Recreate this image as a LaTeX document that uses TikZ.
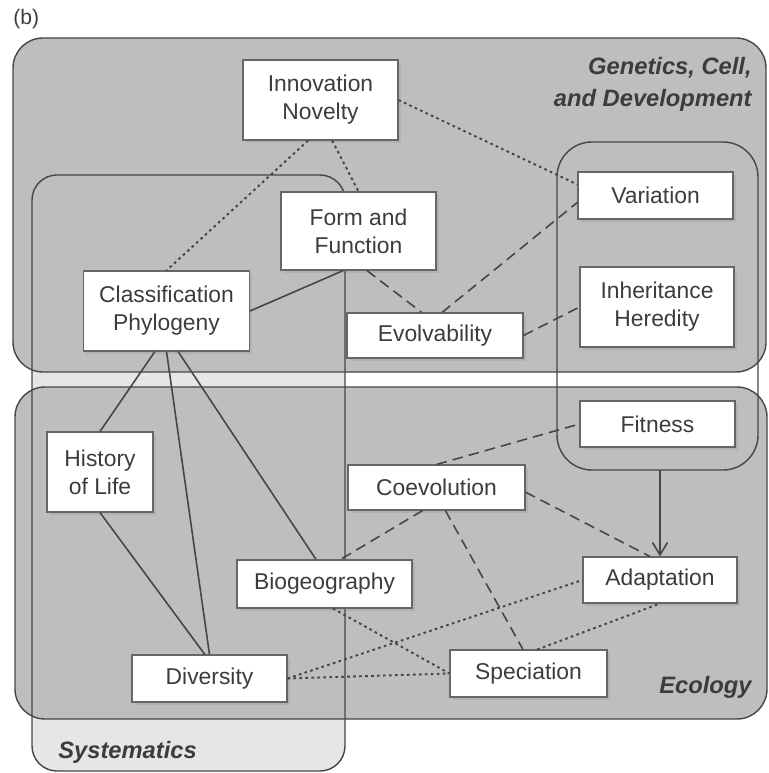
\documentclass[tikz,border=0pt]{standalone}
\usepackage{fontspec}
\setmainfont{Liberation Sans}
\usetikzlibrary{arrows.meta, shadows}
\definecolor{regiongray}{RGB}{190,190,190}
\definecolor{systgray}{RGB}{230,230,230}
\definecolor{linegray}{RGB}{70,70,70}
\definecolor{textgray}{RGB}{60,60,60}

\begin{document}
\begin{tikzpicture}[
    x=0.02cm, y=-0.02cm,
    concept/.style={rectangle, draw=gray!80!black, fill=white, line width=0.6pt,
                    minimum width=3.1cm, minimum height=0.94cm, inner sep=0pt,
                    align=center, text=textgray, font=\fontsize{13}{16}\selectfont,
                    drop shadow={opacity=0.2, shadow xshift=1.5pt, shadow yshift=-1.5pt}},
    tall/.style={minimum height=1.6cm},
    region/.style={draw=linegray, line width=0.8pt, rounded corners=0.6cm},
    field/.style={font=\fontsize{13.5}{18}\selectfont\bfseries\itshape,
                  text=textgray, inner sep=0pt},
    link/.style={linegray, line width=0.9pt},
    dashlink/.style={link, dash pattern=on 6pt off 3.5pt},
    dotlink/.style={link, line width=1.1pt, dash pattern=on 1.5pt off 1.9pt},
    arrow/.style={link, -{Straight Barb[length=2.5mm, width=3mm]}}
]
\useasboundingbox (0,0) rectangle (768,773);

% subject areas
\fill[systgray, rounded corners=0.5cm] (32,175) rectangle (345,771);
\filldraw[region, fill=regiongray] (13,38) rectangle (766,372);
\filldraw[region, fill=regiongray] (15,387) rectangle (767,719);
\draw[region, rounded corners=0.5cm] (32,175) rectangle (345,771);
\draw[region, rounded corners=0.7cm] (557,142) rectangle (758,470);
\coordinate (heredbot) at (660,470);

\node[anchor=base west, inner sep=0pt, text=textgray,
      font=\fontsize{12}{14}\selectfont] (tag) at (13,25) {(b)};
\node[field, anchor=north east, align=right] (genlabel) at (752,57)
    {Genetics, Cell,\\and Development};
\node[field, anchor=base west] (systlabel) at (58,758) {Systematics};
\node[field, anchor=base east] (ecollabel) at (752,693) {Ecology};

% concepts
\node[concept, tall] (innov) at (320.5,100) {Innovation\\Novelty};
\node[concept, minimum height=1.56cm] (form) at (358.5,231) {Form and\\Function};
\node[concept, tall, minimum width=3.32cm] (classif) at (166.5,311)
    {Classification\\Phylogeny};
\node[concept, minimum width=3.52cm, minimum height=0.9cm] (evolv) at (435,335.5)
    {Evolvability};
\node[concept] (variation) at (655.5,195.5) {Variation};
\node[concept, tall, minimum width=3.08cm] (inherit) at (657,307)
    {Inheritance\\Heredity};
\node[concept, minimum height=0.92cm] (fitness) at (657.5,424) {Fitness};
\node[concept, minimum width=3.54cm, minimum height=0.9cm] (coevol) at (436.5,487.5)
    {Coevolution};
\node[concept, tall, minimum width=2.12cm] (history) at (100,472) {History\\of Life};
\node[concept, minimum width=3.5cm, minimum height=0.96cm] (biogeo) at (324.5,584)
    {Biogeography};
\node[concept] (diversity) at (209.5,678.5) {Diversity};
\node[concept, minimum width=3.08cm, minimum height=0.92cm] (adapt) at (660,580)
    {Adaptation};
\node[concept, minimum width=3.14cm] (speciation) at (528.5,673.5) {Speciation};

% links
\draw[dotlink] (innov.-107) -- (classif.north);
\draw[dotlink] (innov.-74) -- (form.north);
\draw[dotlink] (innov.east) -- (variation.172);
\draw[dashlink] (form.-78) -- (evolv.120);
\draw[link] (form.-111) -- (classif.east);
\draw[dashlink] (evolv.73) -- (variation.185);
\draw[dashlink] (evolv.east) -- (inherit.west);
\draw[link] (classif.-106) -- (history.north);
\draw[link] (classif.south) -- (diversity.north);
\draw[link] (classif.-74) -- (biogeo.109);
\draw[link] (history.south) -- (diversity.101);
\draw[dashlink] (coevol.north) -- (fitness.west);
\draw[dashlink] (coevol.-121) -- (biogeo.57);
\draw[dashlink] (coevol.-3) -- (adapt.113);
\draw[dashlink] (coevol.-69) -- (speciation.103);
\draw[arrow] (heredbot) -- (adapt.north);
\draw[dotlink] (biogeo.-71) -- (speciation.west);
\draw[dotlink] (diversity.east) -- (speciation.west);
\draw[dotlink] (diversity.east) -- (adapt.west);
\draw[dotlink] (speciation.70) -- (adapt.south);
\end{tikzpicture}
\end{document}
